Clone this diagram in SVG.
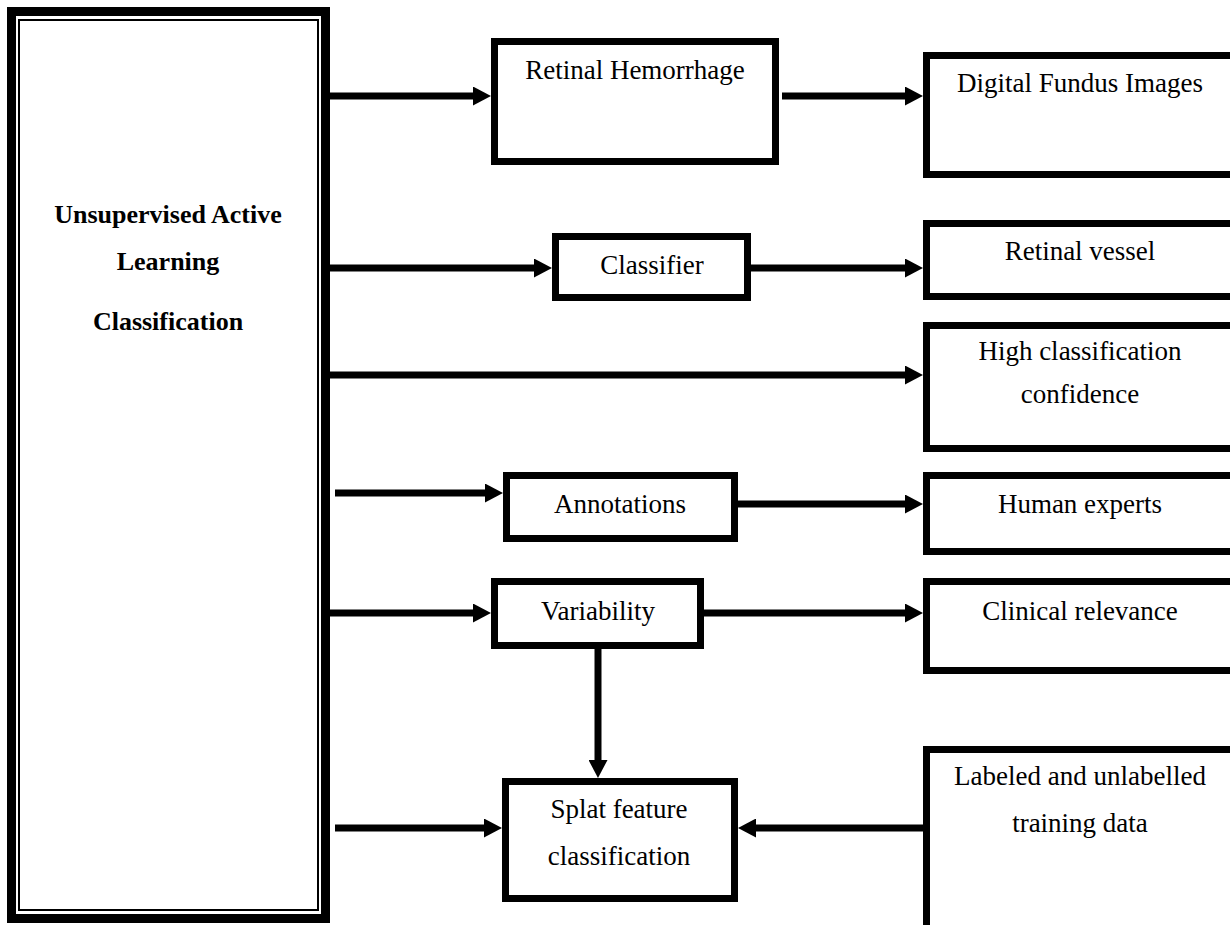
<svg xmlns="http://www.w3.org/2000/svg" width="1230" height="925" viewBox="0 0 1230 925">
<style>
.box{fill:#fff;stroke:#000;stroke-width:7}
.t{font-family:"Liberation Serif","Times New Roman",serif;font-size:27px;fill:#000;text-anchor:middle}
.b{font-family:"Liberation Serif","Times New Roman",serif;font-size:26px;font-weight:bold;fill:#000;text-anchor:middle}
.c{stroke:#000;stroke-width:7;fill:none}
</style>
<defs>
<marker id="ah" markerUnits="userSpaceOnUse" markerWidth="18" markerHeight="19" refX="8" refY="9.5" orient="auto">
<path d="M0,0 L18,9.5 L0,19 z" fill="#000"/>
</marker>
</defs>
<rect width="1230" height="925" fill="#fff"/>
<g id="main">
<rect x="11.5" y="11.5" width="314" height="907" fill="#fff" stroke="#000" stroke-width="9"/>
<rect x="19" y="20" width="299" height="890" fill="none" stroke="#000" stroke-width="2"/>
<text class="b" x="168" y="223">Unsupervised Active</text>
<text class="b" x="168" y="270">Learning</text>
<text class="b" x="168" y="330">Classification</text>
</g>
<g id="connectors">
<line class="c" x1="330" y1="96" x2="481" y2="96" marker-end="url(#ah)"/>
<line class="c" x1="782" y1="96" x2="913" y2="96" marker-end="url(#ah)"/>
<line class="c" x1="330" y1="268" x2="542" y2="268" marker-end="url(#ah)"/>
<line class="c" x1="751" y1="268" x2="913" y2="268" marker-end="url(#ah)"/>
<line class="c" x1="330" y1="375" x2="913" y2="375" marker-end="url(#ah)"/>
<line class="c" x1="335" y1="493" x2="493" y2="493" marker-end="url(#ah)"/>
<line class="c" x1="729" y1="504" x2="913" y2="504" marker-end="url(#ah)"/>
<line class="c" x1="330" y1="613" x2="481" y2="613" marker-end="url(#ah)"/>
<line class="c" x1="704" y1="613" x2="913" y2="613" marker-end="url(#ah)"/>
<line class="c" x1="598" y1="649" x2="598" y2="768" marker-end="url(#ah)"/>
<line class="c" x1="335" y1="828" x2="492" y2="828" marker-end="url(#ah)"/>
<line class="c" x1="923" y1="828" x2="748" y2="828" marker-end="url(#ah)"/>
</g>
<g id="retinal-hemorrhage">
<rect class="box" x="494.5" y="41.5" width="281" height="120"/>
<text class="t" x="635" y="79">Retinal Hemorrhage</text>
</g>
<g id="digital-fundus">
<rect class="box" x="926.5" y="55.5" width="320" height="119"/>
<text class="t" x="1080" y="92">Digital Fundus Images</text>
</g>
<g id="classifier">
<rect class="box" x="555.5" y="236.5" width="192" height="61"/>
<text class="t" x="652" y="274">Classifier</text>
</g>
<g id="retinal-vessel">
<rect class="box" x="926.5" y="223.5" width="320" height="73"/>
<text class="t" x="1080" y="260">Retinal vessel</text>
</g>
<g id="high-confidence">
<rect class="box" x="926.5" y="325.5" width="320" height="123"/>
<text class="t" x="1080" y="360">High classification</text>
<text class="t" x="1080" y="403">confidence</text>
</g>
<g id="annotations">
<rect class="box" x="506.5" y="475.5" width="228" height="63"/>
<text class="t" x="620" y="513">Annotations</text>
</g>
<g id="human-experts">
<rect class="box" x="926.5" y="475.5" width="320" height="76"/>
<text class="t" x="1080" y="513">Human experts</text>
</g>
<g id="variability">
<rect class="box" x="494.5" y="581.5" width="206" height="64"/>
<text class="t" x="598" y="620">Variability</text>
</g>
<g id="clinical-relevance">
<rect class="box" x="926.5" y="581.5" width="320" height="89"/>
<text class="t" x="1080" y="620">Clinical relevance</text>
</g>
<g id="splat">
<rect class="box" x="505.5" y="781.5" width="229" height="117"/>
<text class="t" x="619" y="818">Splat feature</text>
<text class="t" x="619" y="865">classification</text>
</g>
<g id="labeled-data">
<rect class="box" x="926.5" y="749.5" width="320" height="200"/>
<text class="t" x="1080" y="785">Labeled and unlabelled</text>
<text class="t" x="1080" y="832">training data</text>
</g>
</svg>
